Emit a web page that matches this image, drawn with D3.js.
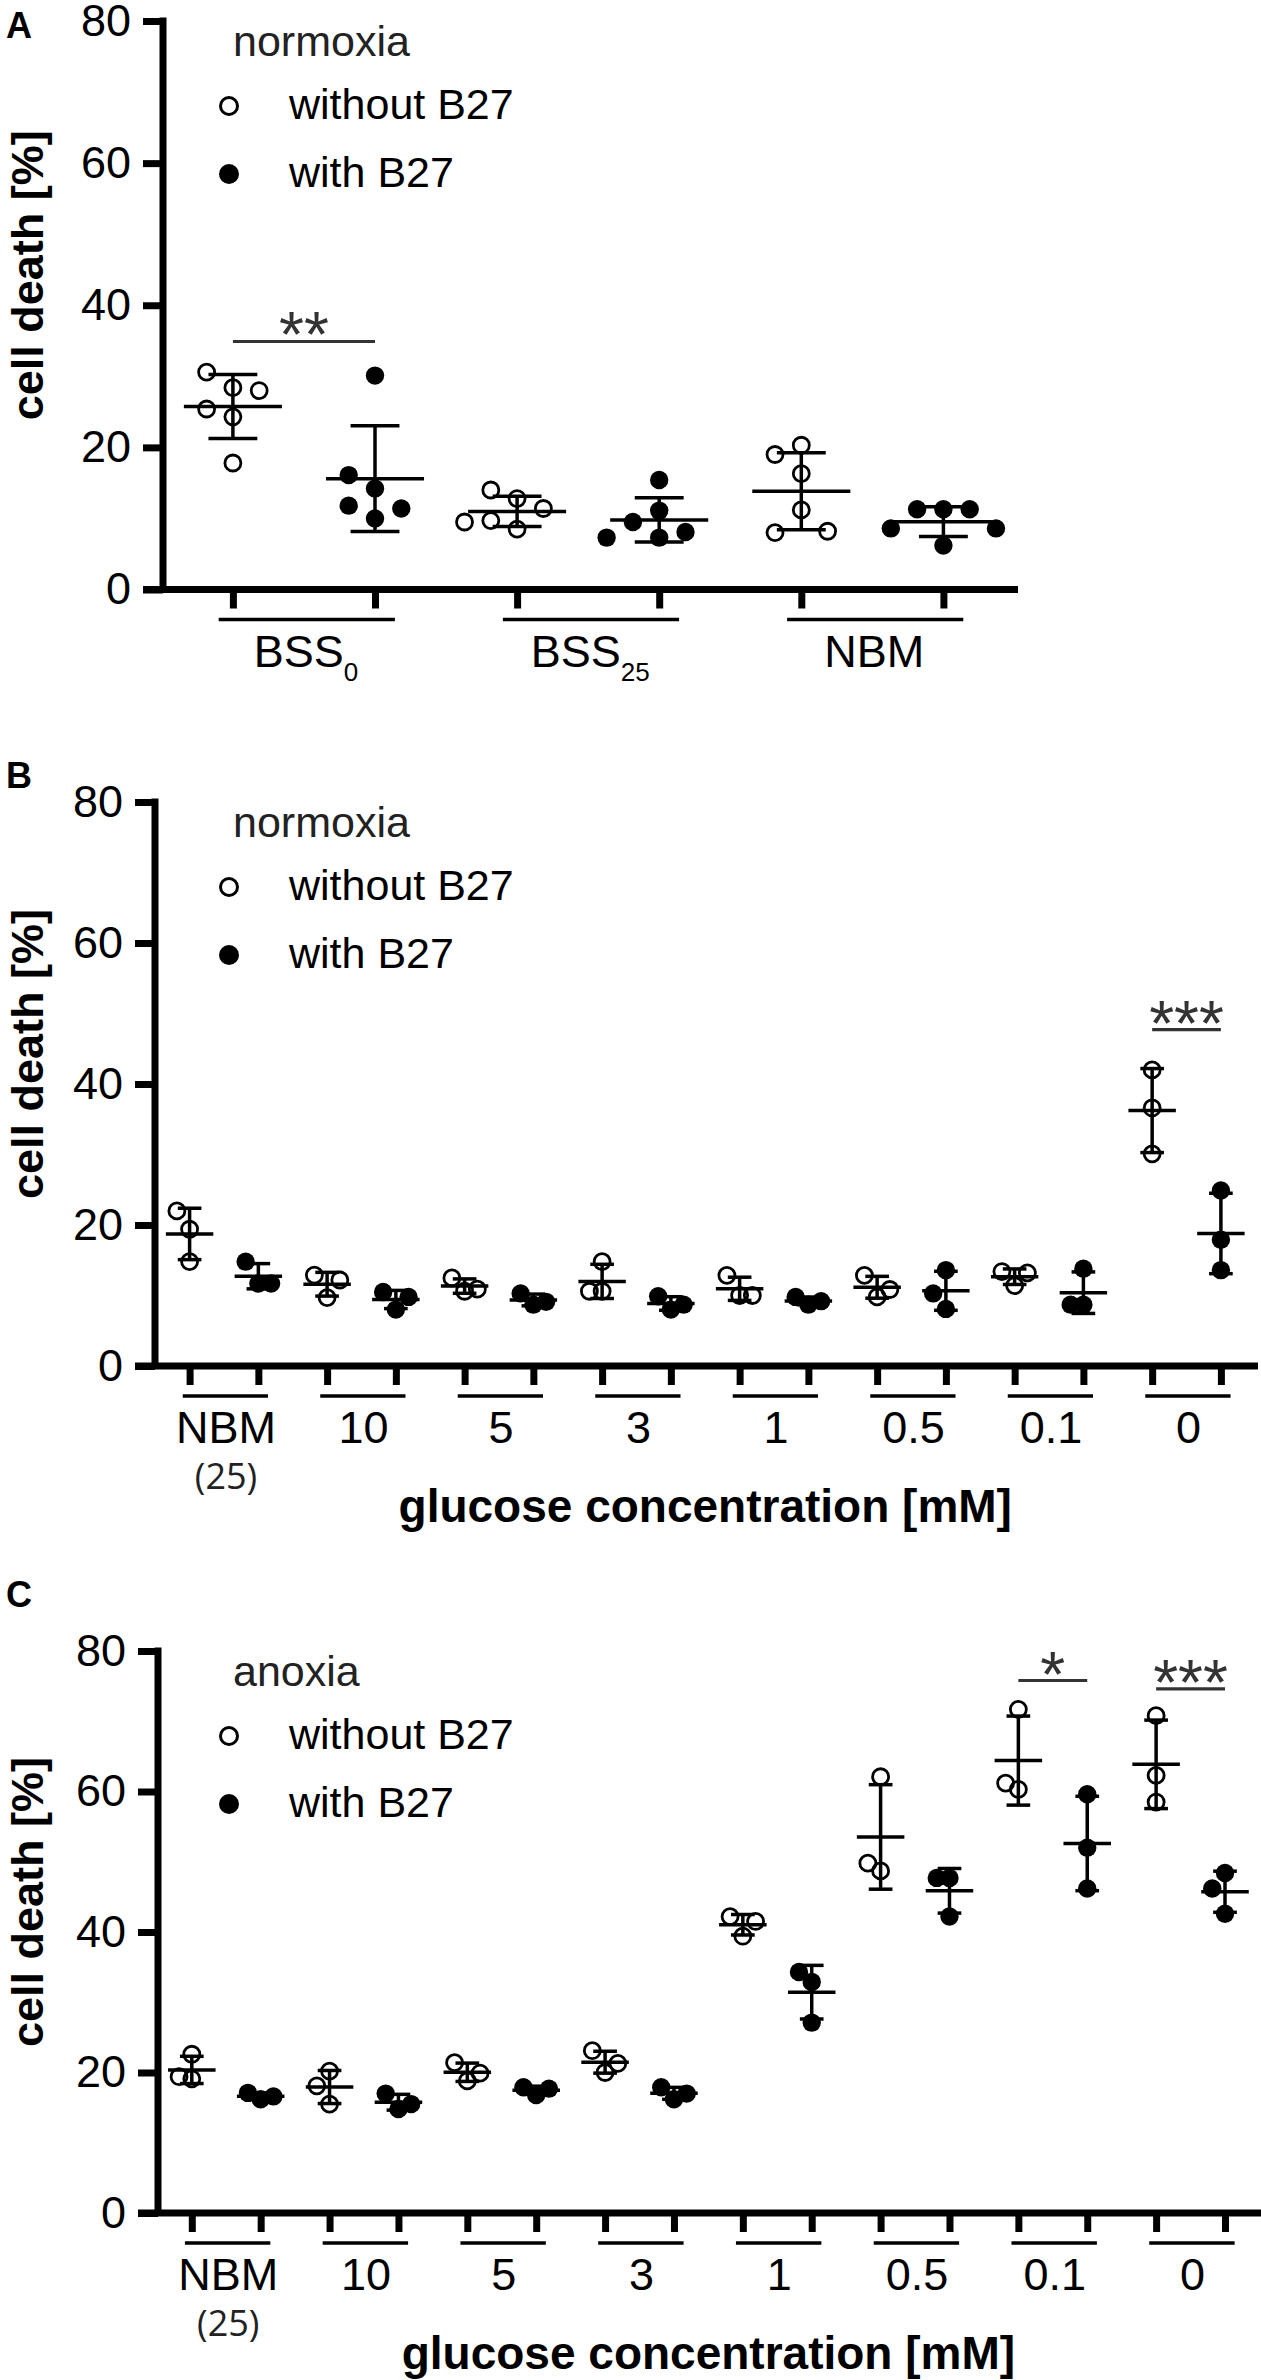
<!DOCTYPE html>
<html>
<head>
<meta charset="utf-8">
<script src="https://d3js.org/d3.v7.min.js"></script>
<style>
  body { margin: 0; background: #fff; }
  text { font-family: "Liberation Sans", Arial, sans-serif; }
</style>
</head>
<body>
<div id="vis-container"></div>
<script>
// ---- data ----
var groupsA = ["BSS0", "BSS25", "NBM"];
var withoutA = [
	[28.4, 24.3, 17.8, 30.6, 28.0, 25.4],
	[12.8, 8.5, 14.0, 11.4, 9.7, 9.5],
	[16.3, 20.3, 19.0, 11.2, 8.0, 8.2]
];
var withA = [
	[30.1, 14.2, 10.0, 16.1, 11.8, 11.4],
	[11.1, 7.3, 15.4, 9.5, 8.1, 7.3],
	[11.3, 11.3, 11.3, 8.6, 8.6, 6.2]
];
var sigA = [{ group: "BSS0", level: 34.9, label: "**" }];

var glucose = ["NBM", "10", "5", "3", "1", "0.5", "0.1", "0"];
var nbmNote = "(25)";

var withoutB = [
	[19.4, 22.0, 14.8], [9.7, 12.9, 12.2], [10.6, 12.5, 10.9], [14.8, 10.6, 10.6],
	[10.0, 12.85, 10.0], [9.8, 12.85, 10.85], [11.4, 13.4, 13.2], [42.0, 36.6, 30.1]
];
var withB = [
	[11.7, 14.8, 11.7], [8.0, 10.5, 9.8], [8.7, 10.3, 9.1], [8.0, 9.9, 8.7],
	[8.7, 9.8, 9.2], [13.6, 8.1, 10.3], [13.8, 8.7, 8.7], [24.9, 17.9, 13.6]
];
var sigB = [{ group: "0", level: 47.7, label: "***" }];

var withoutC = [
	[22.6, 19.4, 19.1], [20.2, 15.5, 18.1], [18.8, 21.4, 19.9], [20.0, 23.1, 21.3],
	[39.4, 42.2, 41.5], [62.1, 48.7, 49.8], [71.7, 60.3, 61.2], [70.8, 62.3, 58.5]
];
var withC = [
	[16.2, 17.1, 16.6], [14.8, 17.0, 15.5], [16.8, 17.9, 17.7], [16.2, 17.9, 17.0],
	[32.9, 34.3, 27.1], [47.7, 47.7, 42.2], [59.6, 52.0, 46.2], [48.4, 42.6, 46.2]
];
var sigC = [
	{ group: "0.1", level: 75.8, label: "*" },
	{ group: "0", level: 74.6, label: "***" }
];

var yTicks = [0, 20, 40, 60, 80];
var legendTitles = ["normoxia", "normoxia", "anoxia"];
var seriesNames = ["without B27", "with B27"];

// ---- layout of the three panels ----
var panels = [
	{ letter: "A", letterY: 38, groups: groupsA, without: withoutA, with: withA, sig: sigA, title: legendTitles[0],
	  axisX: 163, top: 21, bottom: 589.5, first: 232.9, last: 943.4, end: 1018, sub: true, xTitle: false },
	{ letter: "B", letterY: 788, groups: glucose, without: withoutB, with: withB, sig: sigB, title: legendTitles[1],
	  axisX: 155, top: 802, bottom: 1366, first: 189.6, last: 1220.9, end: 1258, sub: false, xTitle: true },
	{ letter: "C", letterY: 1607, groups: glucose, without: withoutC, with: withC, sig: sigC, title: legendTitles[2],
	  axisX: 158, top: 1651, bottom: 2213, first: 191.8, last: 1225, end: 1261, sub: false, xTitle: true }
];

var svg = d3.select("#vis-container")
	.append("svg")
	.attr("width", 1261)
	.attr("height", 2380)
	.style("background", "#fff");

// place points of one column side by side when they would overlap
function swarm(values, y, unit, h) {
	var placed = [];
	var slots = [0, -1, 1, -2, 2];
	return values.map(function (v) {
		var py = y(v);
		var s = slots.find(function (s) {
			return !placed.some(function (p) { return p.s === s && Math.abs(p.py - py) < h; });
		});
		if (s === undefined) s = 0;
		placed.push({ s: s, py: py });
		return { v: v, dx: s * unit };
	});
}

panels.forEach(function (p) {
	var g = svg.append("g");
	var cols = [];
	p.groups.forEach(function (name) { cols.push(name + "|without"); cols.push(name + "|with"); });

	var y = d3.scaleLinear().domain([0, 80]).range([p.bottom, p.top]);
	var x = d3.scalePoint().domain(cols).range([p.first, p.last]);
	var step = x.step();

	// panel letter
	g.append("text")
		.attr("x", 6).attr("y", p.letterY)
		.style("font-size", "36px").style("font-weight", "bold")
		.text(p.letter);

	// y axis
	var ya = g.append("g")
		.attr("transform", "translate(" + p.axisX + ",0)")
		.call(d3.axisLeft(y).tickValues(yTicks).tickSize(20).tickPadding(12));
	ya.select(".domain").remove();
	ya.selectAll(".tick line").attr("stroke", "#000").attr("stroke-width", 7);
	ya.selectAll(".tick text").attr("fill", "#000").style("font-size", "45px")
		.style("font-family", "'Liberation Sans', Arial, sans-serif");
	g.append("line")
		.attr("x1", p.axisX).attr("x2", p.axisX)
		.attr("y1", y(80) - 3.5).attr("y2", y(0))
		.attr("stroke", "#000").attr("stroke-width", 7);

	// x axis with one tick per column
	var xa = g.append("g")
		.attr("transform", "translate(0," + y(0) + ")")
		.call(d3.axisBottom(x).tickSize(19).tickFormat(""));
	xa.select(".domain").remove();
	xa.selectAll(".tick line").attr("stroke", "#000").attr("stroke-width", 7);
	g.append("line")
		.attr("x1", p.axisX - 20).attr("x2", p.end)
		.attr("y1", y(0)).attr("y2", y(0))
		.attr("stroke", "#000").attr("stroke-width", 7);

	// y axis title
	g.append("text")
		.attr("transform", "translate(43," + ((p.top + p.bottom) / 2 - 30) + ") rotate(-90)")
		.attr("text-anchor", "middle")
		.style("font-size", "45px").style("font-weight", "bold")
		.text("cell death [%]");

	// group underline + label
	p.groups.forEach(function (name) {
		var x0 = x(name + "|without"), x1 = x(name + "|with");
		g.append("line")
			.attr("x1", x0 - 0.1 * step).attr("x2", x1 + 0.14 * step)
			.attr("y1", y(0) + 30).attr("y2", y(0) + 30)
			.attr("stroke", "#000").attr("stroke-width", 3.5);
		var lbl = g.append("text")
			.attr("x", (x0 + x1) / 2 + 2)
			.attr("y", y(0) + 77)
			.attr("text-anchor", "middle")
			.style("font-size", "45px");
		var m = p.sub ? name.match(/^(\D+)(\d+)$/) : null;
		if (m) {
			lbl.append("tspan").text(m[1]);
			lbl.append("tspan").attr("dy", 14).style("font-size", "26px").text(m[2]);
		} else {
			lbl.text(name);
		}
		if (name === "NBM" && p.xTitle) {
			g.append("text")
				.attr("x", (x0 + x1) / 2 + 2)
				.attr("y", y(0) + 123)
				.attr("text-anchor", "middle")
				.style("font-family", "'Open Sans', sans-serif")
				.style("font-size", "36px")
				.attr("fill", "#222")
				.text(nbmNote);
		}
	});

	if (p.xTitle) {
		g.append("text")
			.attr("x", (p.first + p.last) / 2)
			.attr("y", y(0) + 156)
			.attr("text-anchor", "middle")
			.style("font-size", "46px").style("font-weight", "bold")
			.text("glucose concentration [mM]");
	}

	// legend
	g.append("text")
		.attr("x", 233).attr("y", p.top + 35)
		.attr("fill", "#222")
		.style("font-size", "43px")
		.text(p.title);
	g.append("circle")
		.attr("cx", 229).attr("cy", p.top + 85).attr("r", 8.5)
		.attr("fill", "none").attr("stroke", "#000").attr("stroke-width", 3);
	g.append("text")
		.attr("x", 289).attr("y", p.top + 98)
		.style("font-size", "43px")
		.text(seriesNames[0]);
	g.append("circle")
		.attr("cx", 229).attr("cy", p.top + 153).attr("r", 10)
		.attr("fill", "#000");
	g.append("text")
		.attr("x", 289).attr("y", p.top + 166)
		.style("font-size", "43px")
		.text(seriesNames[1]);

	// points, mean and SD
	var unit = 0.185 * step;
	p.groups.forEach(function (name, i) {
		[["without", p.without[i]], ["with", p.with[i]]].forEach(function (s) {
			var cx = x(name + "|" + s[0]);
			var open = s[0] === "without";
			var pts = swarm(s[1], y, unit, 23);
			g.selectAll(null)
				.data(pts)
				.enter()
				.append("circle")
				.attr("cx", function (d) { return cx + d.dx; })
				.attr("cy", function (d) { return y(d.v); })
				.attr("r", open ? 8 : 9.2)
				.attr("fill", open ? "none" : "#000")
				.attr("stroke", open ? "#000" : "none")
				.attr("stroke-width", 2.8);

			var mean = d3.mean(s[1]);
			var sd = d3.deviation(s[1]);
			var mw = 0.345 * step, cw = 0.172 * step;
			g.append("line")
				.attr("x1", cx - mw).attr("x2", cx + mw)
				.attr("y1", y(mean)).attr("y2", y(mean))
				.attr("stroke", "#000").attr("stroke-width", 3.5);
			g.append("line")
				.attr("x1", cx).attr("x2", cx)
				.attr("y1", y(mean + sd)).attr("y2", y(mean - sd))
				.attr("stroke", "#000").attr("stroke-width", 3.5);
			[mean + sd, mean - sd].forEach(function (v) {
				g.append("line")
					.attr("x1", cx - cw).attr("x2", cx + cw)
					.attr("y1", y(v)).attr("y2", y(v))
					.attr("stroke", "#000").attr("stroke-width", 3.5);
			});
		});
	});

	// significance bars
	p.sig.forEach(function (s) {
		var x0 = x(s.group + "|without"), x1 = x(s.group + "|with");
		g.append("line")
			.attr("x1", x0).attr("x2", x1)
			.attr("y1", y(s.level)).attr("y2", y(s.level))
			.attr("stroke", "#333").attr("stroke-width", 3.2);
		g.append("text")
			.attr("x", (x0 + x1) / 2)
			.attr("y", y(s.level) + 16)
			.attr("text-anchor", "middle")
			.attr("fill", "#333")
			.style("font-size", "64px")
			.text(s.label);
	});
});
</script>
</body>
</html>
